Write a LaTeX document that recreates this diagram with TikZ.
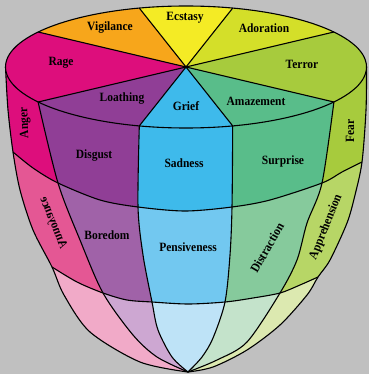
\documentclass[tikz,border=0pt]{standalone}
\usepackage{fontspec}
\setmainfont{Liberation Serif}
\definecolor{bg}{RGB}{192,192,192}
\definecolor{cRage}{RGB}{221,14,124}
\definecolor{cVig}{RGB}{247,166,27}
\definecolor{cEcs}{RGB}{244,235,37}
\definecolor{cAdo}{RGB}{212,223,41}
\definecolor{cTer}{RGB}{167,203,61}
\definecolor{cAma}{RGB}{89,189,138}
\definecolor{cGri}{RGB}{62,186,235}
\definecolor{cLoa}{RGB}{144,62,150}
\definecolor{cAnn}{RGB}{228,87,148}
\definecolor{cBor}{RGB}{160,98,168}
\definecolor{cPen}{RGB}{114,200,240}
\definecolor{cDis}{RGB}{134,202,156}
\definecolor{cApp}{RGB}{183,214,102}
\definecolor{dPink}{RGB}{241,170,200}
\definecolor{dLil}{RGB}{205,167,210}
\definecolor{dBlue}{RGB}{190,227,247}
\definecolor{dGreen}{RGB}{196,227,203}
\definecolor{dYel}{RGB}{220,233,176}
\def\SilL{-- plot[smooth] coordinates {(5.5,67) (8,110) (13,152) (20,190) (33,230) (52,267) (64,295) (90,332) (140,362) (188,372)}}
\def\SilRup{-- plot[smooth] coordinates {(188,372) (213,367) (247,350) (280,325) (307,295) (318,277) (330,260) (347,223) (355,195) (362,162) (366,110) (366.5,67)}}
\def\LOne{-- plot[smooth] coordinates {(13,152) (33,168) (58,183) (100,200) (138,207) (185,211) (232,207) (270,200) (322,183) (342,172) (362,162)}}
\def\LTwo{-- plot[smooth] coordinates {(52,267) (77,282) (103,293) (127,300) (152,302) (188,304) (225,302) (253,298) (280,293) (300,285) (318,277)}}
\def\MA{-- plot[smooth] coordinates {(38.1,102) (58,183) (80,240) (103,293) (133,335) (157,357) (188,372)}}
\def\MB{-- plot[smooth] coordinates {(139.3,125.9) (138,207) (143,255) (152,302) (158,330) (172,357) (188,372)}}
\def\MC{-- plot[smooth] coordinates {(232.7,125.9) (232,207) (230,255) (225,302) (213,338) (202,357) (188,372)}}
\def\MD{-- plot[smooth] coordinates {(333.9,102) (322,183) (307,223) (297,260) (280,293) (247,342) (217,360) (188,372)}}
\newcommand\emobands[3]{%
  \fill[#1] (-10,-10) rectangle (390,390);
  \fill[#2] (-10,-10) -- (-10,267) \LTwo -- (390,277) -- (390,-10) -- cycle;
  \fill[#3] (-10,-10) -- (-10,152) \LOne -- (390,162) -- (390,-10) -- cycle;}
\newcommand\emosector[3]{%
  \fill[#1] (186,67) -- plot[domain=#2:#3,samples=40] ({186+180.5*cos(\x)},{67-61*sin(\x)}) -- cycle;}
\begin{document}
\begin{tikzpicture}[x=1pt,y=-1pt,line width=1.1pt,line join=round,
  lbl/.style={font=\bfseries\fontsize{11.5}{13}\selectfont,inner sep=0pt,yscale=1.1}]
\fill[bg] (0,0) rectangle (369,374);
\useasboundingbox (0,0) rectangle (369,374);
% side bands
\begin{scope}
  \clip (5.5,67) \SilL \SilRup -- cycle;
  \emobands{dPink}{cAnn}{cRage}
  \begin{scope}
    \clip (38.1,-10) \MA -- (188,390) -- (390,390) -- (390,-10) -- cycle;
    \emobands{dLil}{cBor}{cLoa}
  \end{scope}
  \begin{scope}
    \clip (139.3,-10) \MB -- (188,390) -- (390,390) -- (390,-10) -- cycle;
    \emobands{dBlue}{cPen}{cGri}
  \end{scope}
  \begin{scope}
    \clip (232.7,-10) \MC -- (188,390) -- (390,390) -- (390,-10) -- cycle;
    \emobands{dGreen}{cDis}{cAma}
  \end{scope}
  \begin{scope}
    \clip (333.9,-10) \MD -- (188,390) -- (390,390) -- (390,-10) -- cycle;
    \emobands{dYel}{cApp}{cTer}
  \end{scope}
\end{scope}
\draw (5.5,67) \SilL;
\draw (188,372) \SilRup;
\draw (13,152) \LOne;
\draw (52,267) \LTwo;
\draw (38.1,102) \MA;
\draw (139.3,125.9) \MB;
\draw (232.7,125.9) \MC;
\draw (333.9,102) \MD;
% top
\emosector{cEcs}{75}{105}
\emosector{cVig}{105}{145}
\emosector{cRage}{145}{215}
\emosector{cLoa}{215}{255}
\emosector{cGri}{255}{285}
\emosector{cAma}{285}{325}
\emosector{cTer}{325}{395}
\emosector{cAdo}{35}{75}
\draw (186,67) ellipse [x radius=180.5, y radius=61];
\foreach \a in {35,75,105,145,215,255,285,325}
  \draw (186,67) -- ({186+180.5*cos(\a)},{67-61*sin(\a)});
% labels
\node[lbl] (ecstasy) at (185,18) {Ecstasy};
\node[lbl] (vigilance) at (110,28) {Vigilance};
\node[lbl] (adoration) at (264,28) {Adoration};
\node[lbl] (rage) at (61,63) {Rage};
\node[lbl] (terror) at (302,64) {Terror};
\node[lbl] (loathing) at (122,99) {Loathing};
\node[lbl] (grief) at (186,106) {Grief};
\node[lbl] (amazement) at (256,101) {Amazement};
\node[rotate=92,lbl] (anger) at (25,123) {Anger};
\node[lbl] (disgust) at (94,156) {Disgust};
\node[lbl] (sadness) at (184,163) {Sadness};
\node[lbl] (surprise) at (283,161) {Surprise};
\node[rotate=90,lbl] (fear) at (350,131) {Fear};
\node[rotate=112,lbl,yscale=-1] (annoyance) at (53,223) {Annoyance};
\node[lbl] (boredom) at (107,235) {Boredom};
\node[lbl] (pensiveness) at (188,247) {Pensiveness};
\node[rotate=60,lbl] (distraction) at (267,248) {Distraction};
\node[rotate=68,lbl] (apprehension) at (326,227) {Apprehension};
\end{tikzpicture}
\end{document}
